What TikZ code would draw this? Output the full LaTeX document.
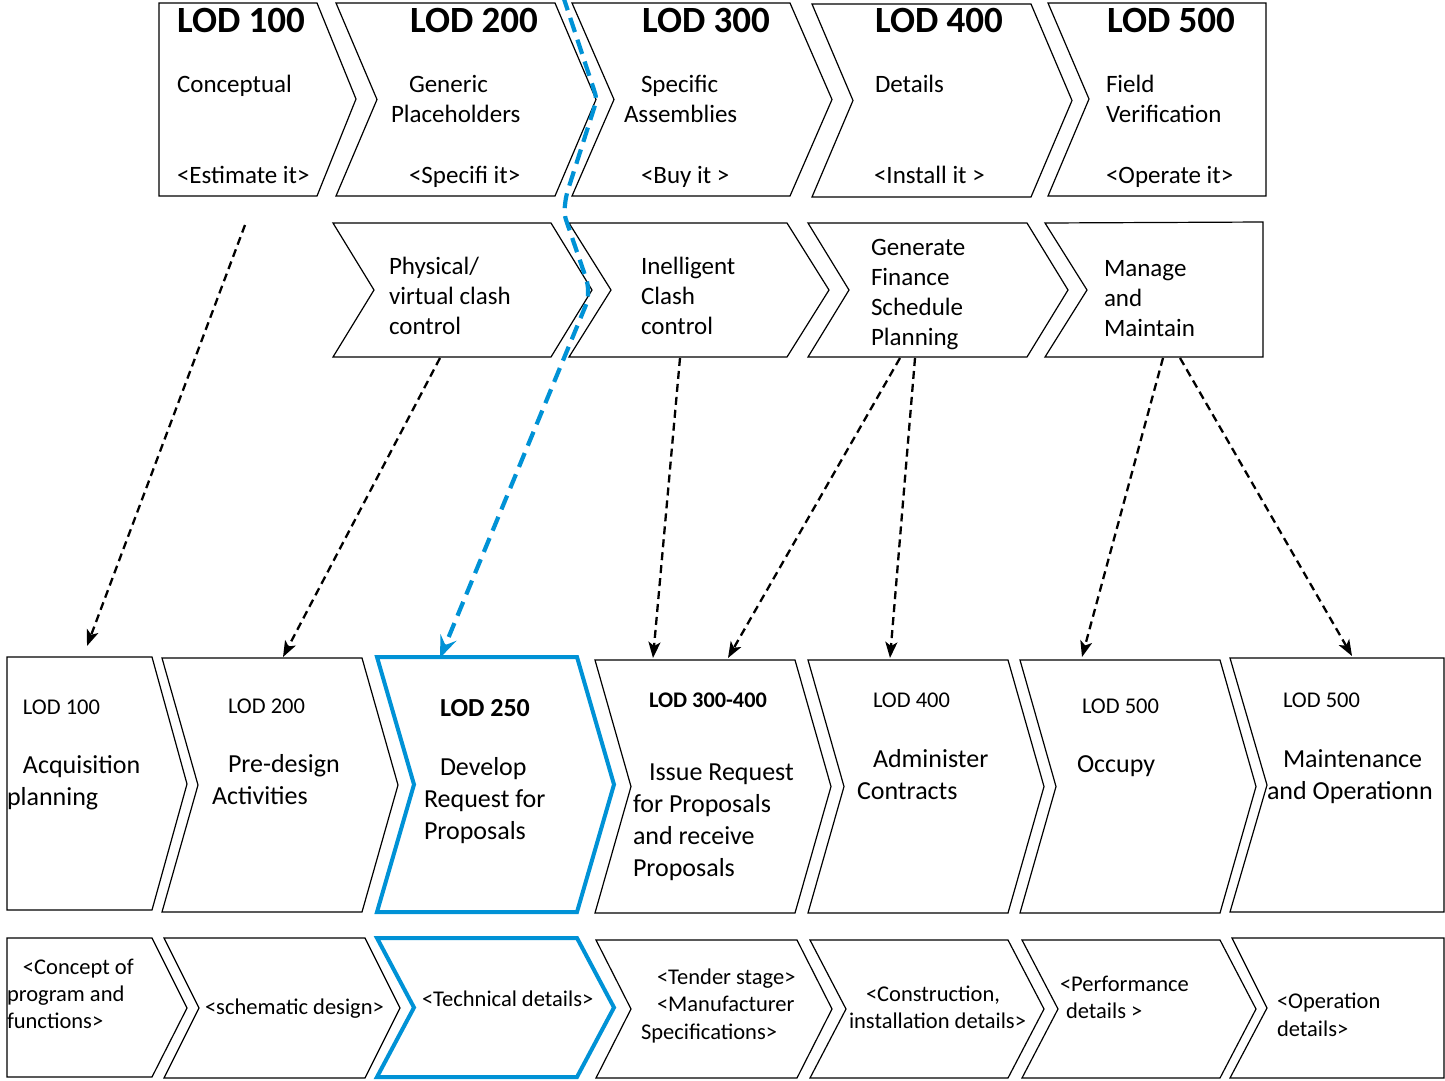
\documentclass[tikz,border=0pt]{standalone}
\usepackage{fontspec}
\setmainfont{Carlito}
\usetikzlibrary{arrows.meta}
\definecolor{lodblue}{RGB}{0,146,214}
\tikzset{
 box/.style={draw=black, line width=1.2pt, fill=white, line join=miter},
 bluebox/.style={draw=lodblue, line width=4pt, fill=white, line join=miter},
 txt/.style={anchor=base west, inner sep=0pt, outer sep=0pt},
 ttl/.style={txt, font=\bfseries\fontsize{37}{44}\selectfont},
 body/.style={txt, font=\fontsize{25}{30}\selectfont},
 big/.style={txt, font=\fontsize{26}{32}\selectfont},
 bigb/.style={txt, font=\bfseries\fontsize{26}{32}\selectfont},
 small/.style={txt, font=\fontsize{22.5}{27}\selectfont},
 smallb/.style={txt, font=\bfseries\fontsize{22.3}{27}\selectfont},
 conn/.style={draw=black, line width=2.3pt, dash pattern=on 8pt off 5pt, -{Stealth[length=16pt,width=12pt,inset=4pt]}},
 bconn/.style={draw=lodblue, line width=4.2pt, dash pattern=on 15pt off 8pt, -{Stealth[length=22pt,width=17pt,inset=8pt]}}
}
\newcommand\chevbox[6]{\draw[#1] (#2,#4) -- (#3,#4) -- ({#3+#6},{(#4+#5)/2}) -- (#3,#5) -- (#2,#5) -- ({#2+#6},{(#4+#5)/2}) -- cycle;}
\begin{document}
\begin{tikzpicture}[x=1pt,y=-1pt]
\useasboundingbox (0,0) rectangle (1445,1080);
\fill[white] (0,0) rectangle (1445,1080);
% top row
\draw[box] (159,3) -- (317,3) -- (356,99) -- (317,196) -- (159,196) -- cycle;
\chevbox{box}{336}{555}{3}{196}{41}
\chevbox{box}{572}{790}{3}{196}{42}
\chevbox{box}{812}{1031}{4}{197}{41}
\draw[box] (1048,3) -- (1266,3) -- (1266,196) -- (1048,196) -- (1089,99) -- cycle;
% middle row
\chevbox{box}{333}{551}{223}{357}{41}
\chevbox{box}{569}{787}{223}{357}{42}
\chevbox{box}{808}{1027}{223}{357}{41}
\draw[box] (1045,223) -- (1263,222) -- (1263,357) -- (1045,357) -- (1087,290) -- cycle;
% bottom row
\draw[box] (7,657) -- (152,657) -- (187,784) -- (152,910) -- (7,910) -- cycle;
\chevbox{box}{162}{362}{658}{912}{36}
\chevbox{bluebox}{377}{577}{657}{912}{37}
\chevbox{box}{595}{795}{660}{913}{36}
\chevbox{box}{808}{1008}{660}{913}{36}
\chevbox{box}{1020}{1220}{660}{913}{36}
\draw[box] (1230,658) -- (1444,658) -- (1444,912) -- (1230,912) -- (1267,785) -- cycle;
% bottom-most row
\draw[box] (7,938) -- (152,938) -- (187,1008) -- (152,1077) -- (7,1077) -- cycle;
\chevbox{box}{164}{365}{938}{1078}{35}
\chevbox{bluebox}{377}{577}{938}{1077}{37}
\chevbox{box}{596}{797}{940}{1078}{35}
\chevbox{box}{810}{1008}{940}{1078}{36}
\chevbox{box}{1022}{1220}{940}{1078}{36}
\draw[box] (1232,938) -- (1444,938) -- (1444,1078) -- (1230,1078) -- (1267,1008) -- cycle;
% connector coordinates
\coordinate (a1s) at (245,225);
\coordinate (b1s) at (440,358);
\coordinate (b2s) at (680,358);
\coordinate (b3s) at (900,358);
\coordinate (b3t) at (915,358);
\coordinate (b4s) at (1163,358);
\coordinate (b4t) at (1180,358);
\coordinate (c1e) at (87,646);
\coordinate (c2e) at (283,657);
\coordinate (c3e) at (440,658);
\coordinate (c4e) at (653,658);
\coordinate (c4f) at (728,658);
\coordinate (c5e) at (890,658);
\coordinate (c6e) at (1082,657);
\coordinate (c7e) at (1352,656);
\coordinate (bl0) at (563,-4);
\coordinate (bl1) at (597,99);
\coordinate (bl2) at (566,196);
\coordinate (bl3) at (564,214);
\coordinate (bl4) at (588,284);
\coordinate (bl5) at (588,300);
% connectors
\draw[conn] (a1s) -- (c1e);
\draw[conn] (b1s) -- (c2e);
\draw[conn] (b2s) -- (c4e);
\draw[conn] (b3s) -- (c4f);
\draw[conn] (b3t) -- (c5e);
\draw[conn] (b4s) -- (c6e);
\draw[conn] (b4t) -- (c7e);
\draw[bconn, rounded corners=6pt] (bl0) -- (bl1) -- (bl2) -- (bl3) -- (bl4) -- (bl5) -- (c3e);
% top row text
\node[ttl] (t1) at (177,32) {LOD 100};
\node[body] (t1a) at (177,92) {Conceptual};
\node[body] (t1b) at (177,183) {<Estimate it>};
\node[ttl] (t2) at (410,32) {LOD 200};
\node[body] (t2a) at (409,92) {Generic};
\node[body] (t2b) at (391,122) {Placeholders};
\node[body] (t2c) at (409,183) {<Specifi it>};
\node[ttl] (t3) at (642,32) {LOD 300};
\node[body] (t3a) at (641,92) {Specific};
\node[body] (t3b) at (624,122) {Assemblies};
\node[body] (t3c) at (641,183) {<Buy it >};
\node[ttl] (t4) at (875,32) {LOD 400};
\node[body] (t4a) at (875,92) {Details};
\node[body] (t4c) at (874,183) {<Install it >};
\node[ttl] (t5) at (1107,32) {LOD 500};
\node[body] (t5a) at (1106,92) {Field};
\node[body] (t5b) at (1106,122) {Verification};
\node[body] (t5c) at (1106,183) {<Operate it>};
% middle row text
\node[body] (m1a) at (389,274) {Physical/};
\node[body] (m1b) at (389,304) {virtual clash};
\node[body] (m1c) at (389,334) {control};
\node[body] (m2a) at (641,274) {Inelligent};
\node[body] (m2b) at (641,304) {Clash};
\node[body] (m2c) at (641,334) {control};
\node[body] (m3a) at (871,255) {Generate};
\node[body] (m3b) at (871,285) {Finance};
\node[body] (m3c) at (871,315) {Schedule};
\node[body] (m3d) at (871,345) {Planning};
\node[body] (m4a) at (1104,276) {Manage};
\node[body] (m4b) at (1104,306) {and};
\node[body] (m4c) at (1104,336) {Maintain};
% bottom row text
\node[small] (l1) at (23,714) {LOD 100};
\node[big] (l1a) at (23,773) {Acquisition};
\node[big] (l1b) at (7,805) {planning};
\node[small] (l2) at (228,713) {LOD 200};
\node[big] (l2a) at (228,772) {Pre-design};
\node[big] (l2b) at (212,804) {Activities};
\node[bigb] (l3) at (440,716) {LOD 250};
\node[big] (l3a) at (440,775) {Develop};
\node[big] (l3b) at (424,807) {Request for};
\node[big] (l3c) at (424,839) {Proposals};
\node[smallb] (l4) at (649,707) {LOD 300-400};
\node[big] (l4a) at (649,780) {Issue Request};
\node[big] (l4b) at (633,812) {for Proposals};
\node[big] (l4c) at (633,844) {and receive};
\node[big] (l4d) at (633,876) {Proposals};
\node[small] (l5) at (873,707) {LOD 400};
\node[big] (l5a) at (873,767) {Administer};
\node[big] (l5b) at (857,799) {Contracts};
\node[small] (l6) at (1082,713) {LOD 500};
\node[big] (l6a) at (1077,772) {Occupy};
\node[small] (l7) at (1283,707) {LOD 500};
\node[big] (l7a) at (1283,767) {Maintenance};
\node[big] (l7b) at (1267,799) {and Operationn};
% bottom-most row text
\node[small] (d1a) at (23,974) {<Concept of};
\node[small] (d1b) at (7,1001) {program and};
\node[small] (d1c) at (7,1028) {functions>};
\node[small] (d2a) at (205,1014) {<schematic design>};
\node[small] (d3a) at (422,1006) {<Technical details>};
\node[small] (d4a) at (657,984) {<Tender stage>};
\node[small] (d4b) at (657,1011) {<Manufacturer};
\node[small] (d4c) at (641,1039) {Specifications>};
\node[small] (d5a) at (866,1001) {<Construction,};
\node[small] (d5b) at (849,1028) {installation details>};
\node[small] (d6a) at (1060,991) {<Performance};
\node[small] (d6b) at (1066,1018) {details >};
\node[small] (d7a) at (1277,1008) {<Operation};
\node[small] (d7b) at (1277,1036) {details>};
\end{tikzpicture}
\end{document}
